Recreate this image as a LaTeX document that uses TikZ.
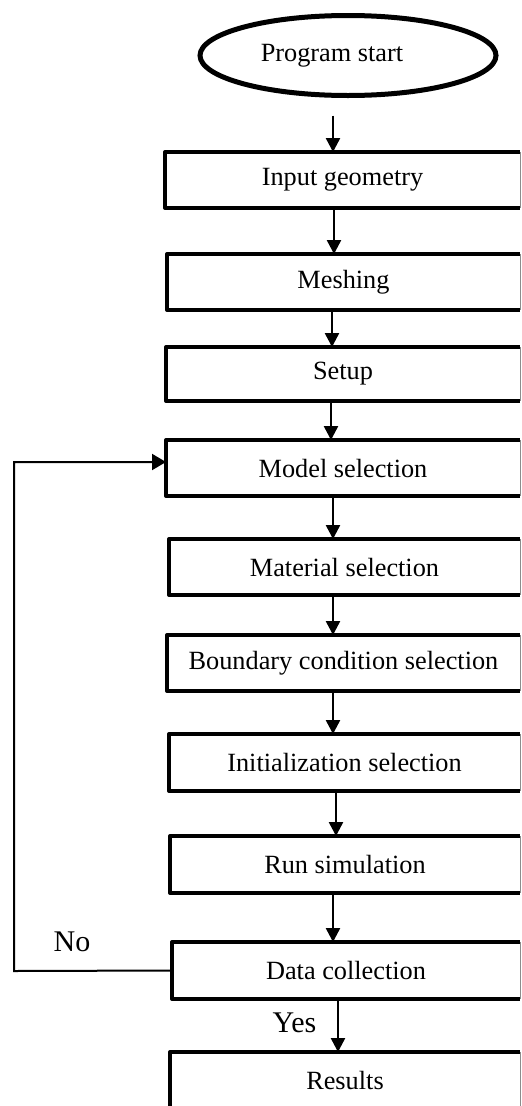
\documentclass[tikz,border=0pt]{standalone}
\usepackage{fontspec}
\setmainfont{Liberation Serif}
\usetikzlibrary{shapes.geometric,arrows.meta}
\tikzset{
  box/.style={draw=none, rectangle, inner sep=0pt, outer sep=0pt,
    font=\fontsize{26.3}{30}\selectfont},
  startnode/.style={ellipse, draw, line width=5pt, inner sep=0pt, outer sep=0pt,
    minimum width=296pt, minimum height=80pt, font=\fontsize{26.3}{30}\selectfont},
  thickedge/.style={line width=4pt, line join=round},
  thinedge/.style={line width=0.8pt, draw=black!45},
  arr/.style={line width=2.5pt, -{Triangle[width=14pt,length=14pt]}},
  fbarr/.style={line width=2pt, -{Triangle[width=16pt,length=14pt]}},
  lbl/.style={inner sep=0pt, font=\fontsize{30}{34}\selectfont}
}
\begin{document}
\begin{tikzpicture}[x=1pt,y=-1pt]
\useasboundingbox (0,0) rectangle (522,1106);
\node[startnode] (e) at (348,55.5) {\hspace*{-32pt}Program start};
\node[box, minimum width=355pt, minimum height=56pt] (n1) at (342.5,180) {Input geometry};
\node[box, minimum width=353pt, minimum height=56pt] (n2) at (343.5,282) {Meshing};
\node[box, minimum width=354pt, minimum height=54pt] (n3) at (343,374) {Setup};
\node[box, minimum width=354pt, minimum height=56pt] (n4) at (343,468) {Model selection};
\node[box, minimum width=351pt, minimum height=56pt] (n5) at (344.5,567) {Material selection};
\node[box, minimum width=353pt, minimum height=56pt] (n6) at (343.5,663) {Boundary condition selection};
\node[box, minimum width=351pt, minimum height=57pt] (n7) at (344.5,762.5) {Initialization selection};
\node[box, minimum width=350pt, minimum height=57pt] (n8) at (345,864.5) {Run simulation};
\node[box, minimum width=348pt, minimum height=57pt] (n9) at (346,970.5) {Data collection};
\node[box, minimum width=350pt, minimum height=56pt] (n10) at (345,1080) {Results};
\foreach \n in {n1,n2,n3,n4,n5,n6,n7,n8,n9,n10}{
  \draw[thickedge] (\n.north east) -- (\n.north west) -- (\n.south west) -- (\n.south east);
  \draw[thinedge] (\n.north east) -- (\n.south east);
}
\coordinate (c331) at (331,0);
\coordinate (c332) at (332,0);
\coordinate (c333) at (333,0);
\coordinate (c334) at (334,0);
\coordinate (c336) at (336,0);
\coordinate (c338) at (338,0);
\draw[arr] ([yshift=-20pt]e.south -| c333) -- (n1.north -| c333);
\draw[arr] (n1.south -| c334) -- (n2.north -| c334);
\draw[arr] (n2.south -| c332) -- (n3.north -| c332);
\draw[arr] (n3.south -| c331) -- (n4.north -| c331);
\draw[arr] (n4.south -| c333) -- (n5.north -| c333);
\draw[arr] (n5.south -| c333) -- (n6.north -| c333);
\draw[arr] (n6.south -| c333) -- (n7.north -| c333);
\draw[arr] (n7.south -| c336) -- (n8.north -| c336);
\draw[arr] (n8.south -| c333) -- (n9.north -| c333);
\draw[arr] (n9.south -| c338) -- (n10.north -| c338);
\coordinate (fb) at (14,971);
\draw[fbarr] (n9.west) -- (fb) |- ([yshift=6pt]n4.west);
\node[lbl] (no) at (72,942) {No};
\node[lbl] (yes) at (294.5,1023) {Yes};
\end{tikzpicture}
\end{document}
